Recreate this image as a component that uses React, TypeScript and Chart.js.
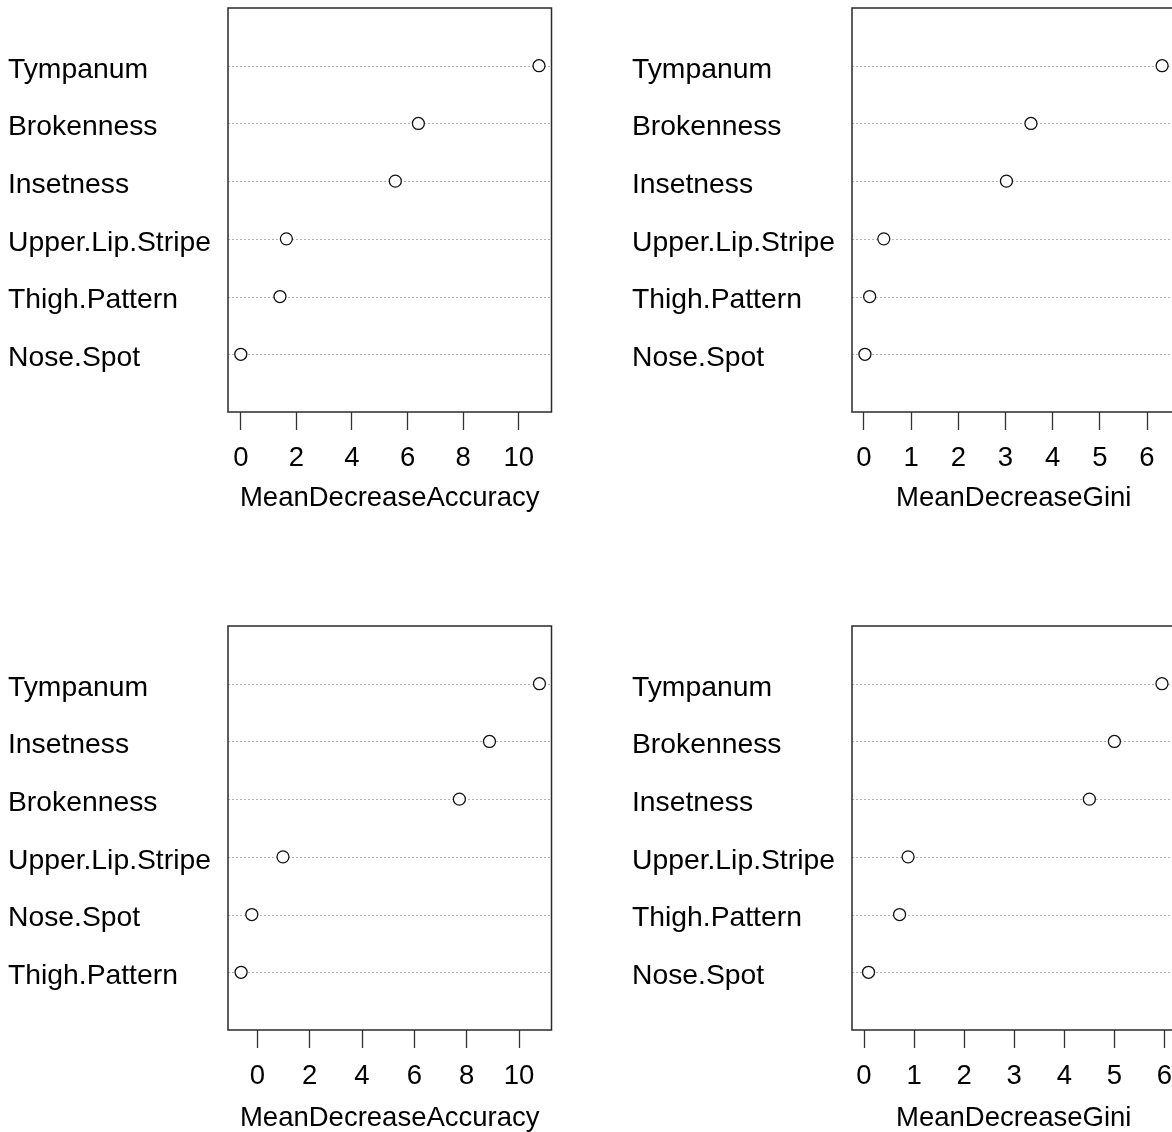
import React, { useEffect, useRef } from "react";
import { Chart, registerables } from "chart.js";

Chart.register(...registerables);

// ---- Data ----
const topAccCategories = ["Tympanum", "Brokenness", "Insetness", "Upper.Lip.Stripe", "Thigh.Pattern", "Nose.Spot"];
const topAccValues = [10.73, 6.39, 5.56, 1.64, 1.41, 0.0];

const topGiniCategories = ["Tympanum", "Brokenness", "Insetness", "Upper.Lip.Stripe", "Thigh.Pattern", "Nose.Spot"];
const topGiniValues = [6.32, 3.54, 3.02, 0.42, 0.12, 0.02];

const botAccCategories = ["Tympanum", "Insetness", "Brokenness", "Upper.Lip.Stripe", "Nose.Spot", "Thigh.Pattern"];
const botAccValues = [10.78, 8.87, 7.72, 0.98, -0.21, -0.62];

const botGiniCategories = ["Tympanum", "Brokenness", "Insetness", "Upper.Lip.Stripe", "Thigh.Pattern", "Nose.Spot"];
const botGiniValues = [5.95, 5.0, 4.5, 0.88, 0.71, 0.09];

const accTitle = "MeanDecreaseAccuracy";
const giniTitle = "MeanDecreaseGini";

// ---- Layout ----
const PANEL_W = 624;
const PANEL_H = 618;
const BOX_LEFT = 228;
const BOX_TOP = 8;
const BOX_BOTTOM = 412;
const BOX_RIGHT = 551.5;
const FONT = "'Liberation Sans', Arial, sans-serif";
const FONT_SIZE = 27.5;
const LABEL_FONT_SIZE = 28.3;

type PanelProps = {
  categories: string[];
  values: number[];
  title: string;
  xMin: number;
  xMax: number;
  step: number;
  titlePad: number;
};

const framePlugin = {
  id: "frame",
  beforeDatasetsDraw(chart: any) {
    const { ctx, chartArea } = chart;
    const y = chart.scales.y;
    const n = chart.data.datasets[0].data.length;
    ctx.save();
    ctx.strokeStyle = "#b4b4b4";
    ctx.lineWidth = 1;
    ctx.setLineDash([2, 2]);
    for (let i = 1; i <= n; i++) {
      const py = Math.round(y.getPixelForValue(i)) + 0.5;
      ctx.beginPath();
      ctx.moveTo(chartArea.left, py);
      ctx.lineTo(chartArea.right, py);
      ctx.stroke();
    }
    ctx.setLineDash([]);
    ctx.strokeStyle = "#2a2a2a";
    ctx.lineWidth = 1.5;
    ctx.strokeRect(chartArea.left, chartArea.top, chartArea.right - chartArea.left, chartArea.bottom - chartArea.top);
    ctx.restore();
  },
};

function Panel({ categories, values, title, xMin, xMax, step, titlePad }: PanelProps) {
  const ref = useRef<HTMLCanvasElement>(null);
  useEffect(() => {
    if (!ref.current) return;
    const chart = new Chart(ref.current, {
      type: "scatter",
      data: {
        datasets: [
          {
            data: values.map((v, i) => ({ x: v, y: i + 1 })),
            pointRadius: 6,
            pointHoverRadius: 6,
            pointBorderWidth: 1.3,
            pointBorderColor: "#111",
            pointBackgroundColor: "#fff",
            showLine: false,
          },
        ],
      },
      options: {
        responsive: false,
        animation: false,
        events: [],
        layout: {
          padding: { left: 8, top: BOX_TOP, right: PANEL_W - BOX_RIGHT, bottom: 0 },
        },
        plugins: { legend: { display: false }, tooltip: { enabled: false }, title: { display: false } },
        scales: {
          x: {
            type: "linear",
            position: "bottom",
            min: xMin,
            max: xMax,
            border: { display: false },
            grid: {
              drawOnChartArea: false,
              drawTicks: true,
              tickLength: 18,
              tickColor: "#333",
              tickWidth: 1.3,
              color: "#333",
            },
            ticks: {
              stepSize: step,
              includeBounds: false,
              color: "#000",
              padding: 11.5,
              maxRotation: 0,
              autoSkip: false,
              font: { family: FONT, size: FONT_SIZE },
            },
            title: {
              display: true,
              text: title,
              color: "#000",
              font: { family: FONT, size: FONT_SIZE },
              padding: { top: 0, bottom: titlePad },
            },
            afterFit(scale: any) {
              scale.height = PANEL_H - BOX_BOTTOM;
              scale.paddingLeft = 0;
              scale.paddingRight = 0;
            },
          },
          y: {
            type: "linear",
            position: "left",
            min: 0,
            max: categories.length + 1,
            reverse: true,
            border: { display: false },
            grid: { display: false, drawTicks: false },
            afterBuildTicks(scale: any) {
              scale.ticks = categories.map((_, i) => ({ value: i + 1 }));
            },
            ticks: {
              crossAlign: "far",
              color: "#000",
              labelOffset: 4,
              autoSkip: false,
              font: { family: FONT, size: LABEL_FONT_SIZE },
              callback: (v: any) => categories[Number(v) - 1] ?? "",
            },
            afterFit(scale: any) {
              scale.width = BOX_LEFT - 8;
              scale.paddingTop = 0;
              scale.paddingBottom = 0;
            },
          },
        },
      },
      plugins: [framePlugin],
    });
    return () => chart.destroy();
  }, []);
  return <canvas ref={ref} width={PANEL_W} height={PANEL_H} style={{ display: "block" }} />;
}

export default function App() {
  return (
    <div
      style={{
        position: "absolute",
        left: 0,
        top: 0,
        width: 1172,
        height: 1132,
        overflow: "hidden",
        background: "#fff",
      }}
    >
      <div style={{ position: "absolute", left: 0, top: 0 }}>
        <Panel categories={topAccCategories} values={topAccValues} title={accTitle} xMin={-0.46} xMax={11.18} step={2} titlePad={103} />
      </div>
      <div style={{ position: "absolute", left: PANEL_W, top: 0 }}>
        <Panel categories={topGiniCategories} values={topGiniValues} title={giniTitle} xMin={-0.254} xMax={6.604} step={1} titlePad={103} />
      </div>
      <div style={{ position: "absolute", left: 0, top: PANEL_H }}>
        <Panel categories={botAccCategories} values={botAccValues} title={accTitle} xMin={-1.12} xMax={11.24} step={2} titlePad={101} />
      </div>
      <div style={{ position: "absolute", left: PANEL_W, top: PANEL_H }}>
        <Panel categories={botGiniCategories} values={botGiniValues} title={giniTitle} xMin={-0.24} xMax={6.22} step={1} titlePad={101} />
      </div>
    </div>
  );
}
